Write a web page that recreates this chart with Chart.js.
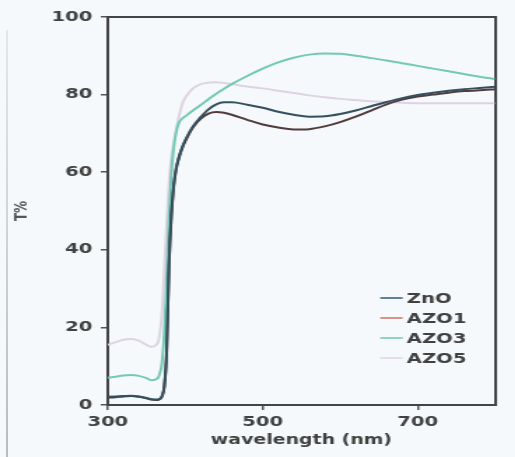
<!DOCTYPE html>
<html>
<head>
<meta charset="utf-8">
<script src="https://cdn.jsdelivr.net/npm/chart.js@4.4.1/dist/chart.umd.min.js"></script>
<style>
  html, body { margin: 0; padding: 0; background: #f6f9fb; overflow: hidden; }
  #wrap { position: absolute; left: 0; top: 0; width: 368px; height: 457px; transform: scale(1.4, 1); transform-origin: 0 0; }
  #edge { position: absolute; left: 6px; top: 30px; width: 2px; height: 427px; background: linear-gradient(#e4e6e8, #b9bbbd); }
</style>
</head>
<body>
<div id="edge"></div>
<div id="wrap"><canvas id="chart" width="368" height="457"></canvas></div>
<script>
// transmittance spectra (T%) against wavelength (nm)
const wavelengths = [300, 310, 320, 330, 340, 350, 356, 362, 366, 370, 373, 376, 379, 382, 385, 388, 392, 396, 400,
  410, 420, 430, 440, 450, 460, 480, 500, 520, 540, 560, 580, 600, 620, 640, 660, 680, 700, 720, 740, 760, 780, 800];

const znoT = [2.1, 2.2, 2.3, 2.4, 2.2, 1.8, 1.5, 1.4, 1.5, 2.3, 5, 14, 36, 49, 56.5, 60.8, 64, 66.4, 68.2,
  71.8, 74.2, 76.2, 77.5, 78, 78, 77.4, 76.6, 75.6, 74.8, 74.3, 74.4, 75, 75.9, 77, 78.1, 79.1, 79.9, 80.5, 81, 81.4, 81.7, 82];

const azo1T = [1.9, 2, 2.2, 2.3, 2.1, 1.7, 1.4, 1.3, 1.4, 2.2, 4.8, 13.5, 35.5, 48.5, 56, 60.5, 63.8, 66.2, 68,
  71.6, 73.8, 75.1, 75.5, 75.3, 74.8, 73.5, 72.3, 71.5, 71, 71.1, 71.8, 72.9, 74.3, 75.9, 77.5, 78.7, 79.5, 80, 80.5, 80.9, 81.1, 81.4];

const azo3T = [7, 7.3, 7.6, 7.7, 7.5, 6.9, 6.4, 6.6, 7.5, 11, 19, 33, 48, 59.5, 66, 70, 72.8, 73.8, 74.4,
  75.9, 77.3, 78.8, 80.2, 81.5, 82.7, 84.8, 86.7, 88.3, 89.5, 90.3, 90.6, 90.5, 90, 89.4, 88.8, 88.1, 87.4, 86.7, 86, 85.3, 84.6, 84];

const azo5T = [15.5, 16.2, 16.8, 17, 16.6, 15.5, 15, 15.4, 17, 24, 35, 47, 57, 63.5, 67.5, 70.8, 74.5, 77.5, 79.2,
  81.6, 82.7, 83.1, 83.2, 83, 82.7, 82.1, 81.6, 81, 80.4, 79.8, 79.3, 78.9, 78.6, 78.3, 78.1, 77.9, 77.8, 77.8, 77.8, 77.8, 77.8, 77.8];

const seriesNames = ['ZnO', 'AZO1', 'AZO3', 'AZO5'];
const xTicks = [300, 500, 700];
const yTicks = [0, 20, 40, 60, 80, 100];

const lineColors = ['#34505f', '#503b3d', '#74c9b4', '#ddd3e3'];
const legendColors = ['#5f8296', '#d9928a', '#8fd3c2', '#e2dde8'];
const textColor = '#404040';
const tickFont = { family: 'DejaVu Sans', size: 14, weight: 'bold' };
const titleFont = { family: 'DejaVu Sans', size: 13.5, weight: 'bold' };

const toPoints = (ys) => wavelengths.map((w, i) => ({ x: w, y: ys[i] }));

// legend sits inside the plot, lower right
const insetLegend = {
  id: 'insetLegend',
  afterDraw(chart) {
    const { ctx, chartArea } = chart;
    const x0 = chartArea.right - 82;
    const y0 = chartArea.bottom - 107;
    ctx.save();
    ctx.font = 'bold 14px "DejaVu Sans"';
    ctx.textBaseline = 'middle';
    ctx.textAlign = 'left';
    chart.data.datasets.forEach((ds, i) => {
      const y = y0 + i * 20;
      ctx.strokeStyle = legendColors[i];
      ctx.lineWidth = 2;
      ctx.beginPath();
      ctx.moveTo(x0, y);
      ctx.lineTo(x0 + 16, y);
      ctx.stroke();
      ctx.fillStyle = textColor;
      ctx.fillText(ds.label, x0 + 19, y + 1);
    });
    ctx.restore();
  }
};

const frameBorder = { display: true, color: '#444', width: 2 };

new Chart(document.getElementById('chart'), {
  type: 'line',
  data: {
    datasets: [znoT, azo1T, azo3T, azo5T].map((ys, i) => ({
      label: seriesNames[i],
      data: toPoints(ys),
      borderColor: lineColors[i],
      borderWidth: 2,
      pointRadius: 0,
      fill: false,
      cubicInterpolationMode: 'monotone'
    }))
  },
  options: {
    responsive: false,
    animation: false,
    layout: { padding: { top: 17, right: 14.4, bottom: 0, left: 0 } },
    plugins: { legend: { display: false }, tooltip: { enabled: false } },
    scales: {
      x: {
        type: 'linear',
        min: 300,
        max: 800,
        afterBuildTicks: (s) => { s.ticks = xTicks.map(v => ({ value: v })); },
        afterFit: (s) => { s.height = 52; },
        ticks: { font: tickFont, color: textColor, padding: 4, maxRotation: 0, autoSkip: false },
        grid: { drawOnChartArea: false, drawTicks: true, tickLength: 5, color: '#555', lineWidth: 1.5 },
        border: frameBorder,
        title: { display: true, text: 'wavelength (nm)', font: titleFont, color: textColor, padding: { top: 0, bottom: 8 } }
      },
      y: {
        type: 'linear',
        min: 0,
        max: 100,
        afterBuildTicks: (s) => { s.ticks = yTicks.map(v => ({ value: v })); },
        afterFit: (s) => { s.width = 77; },
        ticks: { font: tickFont, color: textColor, padding: 6 },
        grid: { drawOnChartArea: false, drawTicks: true, tickLength: 5, color: '#555', lineWidth: 1.5 },
        border: frameBorder,
        title: {
          display: true, text: 'T%', color: '#555',
          font: { family: 'DejaVu Sans', size: 12, weight: 'bold' },
          padding: { top: 9, bottom: 0 }
        }
      },
      xTop: {
        type: 'linear',
        position: 'top',
        min: 0,
        max: 1,
        afterFit: (s) => { s.height = 0; },
        ticks: { display: false },
        grid: { display: false },
        border: frameBorder
      },
      yRight: {
        type: 'linear',
        position: 'right',
        min: 0,
        max: 1,
        afterFit: (s) => { s.width = 0; },
        ticks: { display: false },
        grid: { display: false },
        border: frameBorder
      }
    }
  },
  plugins: [insetLegend]
});
</script>
</body>
</html>
